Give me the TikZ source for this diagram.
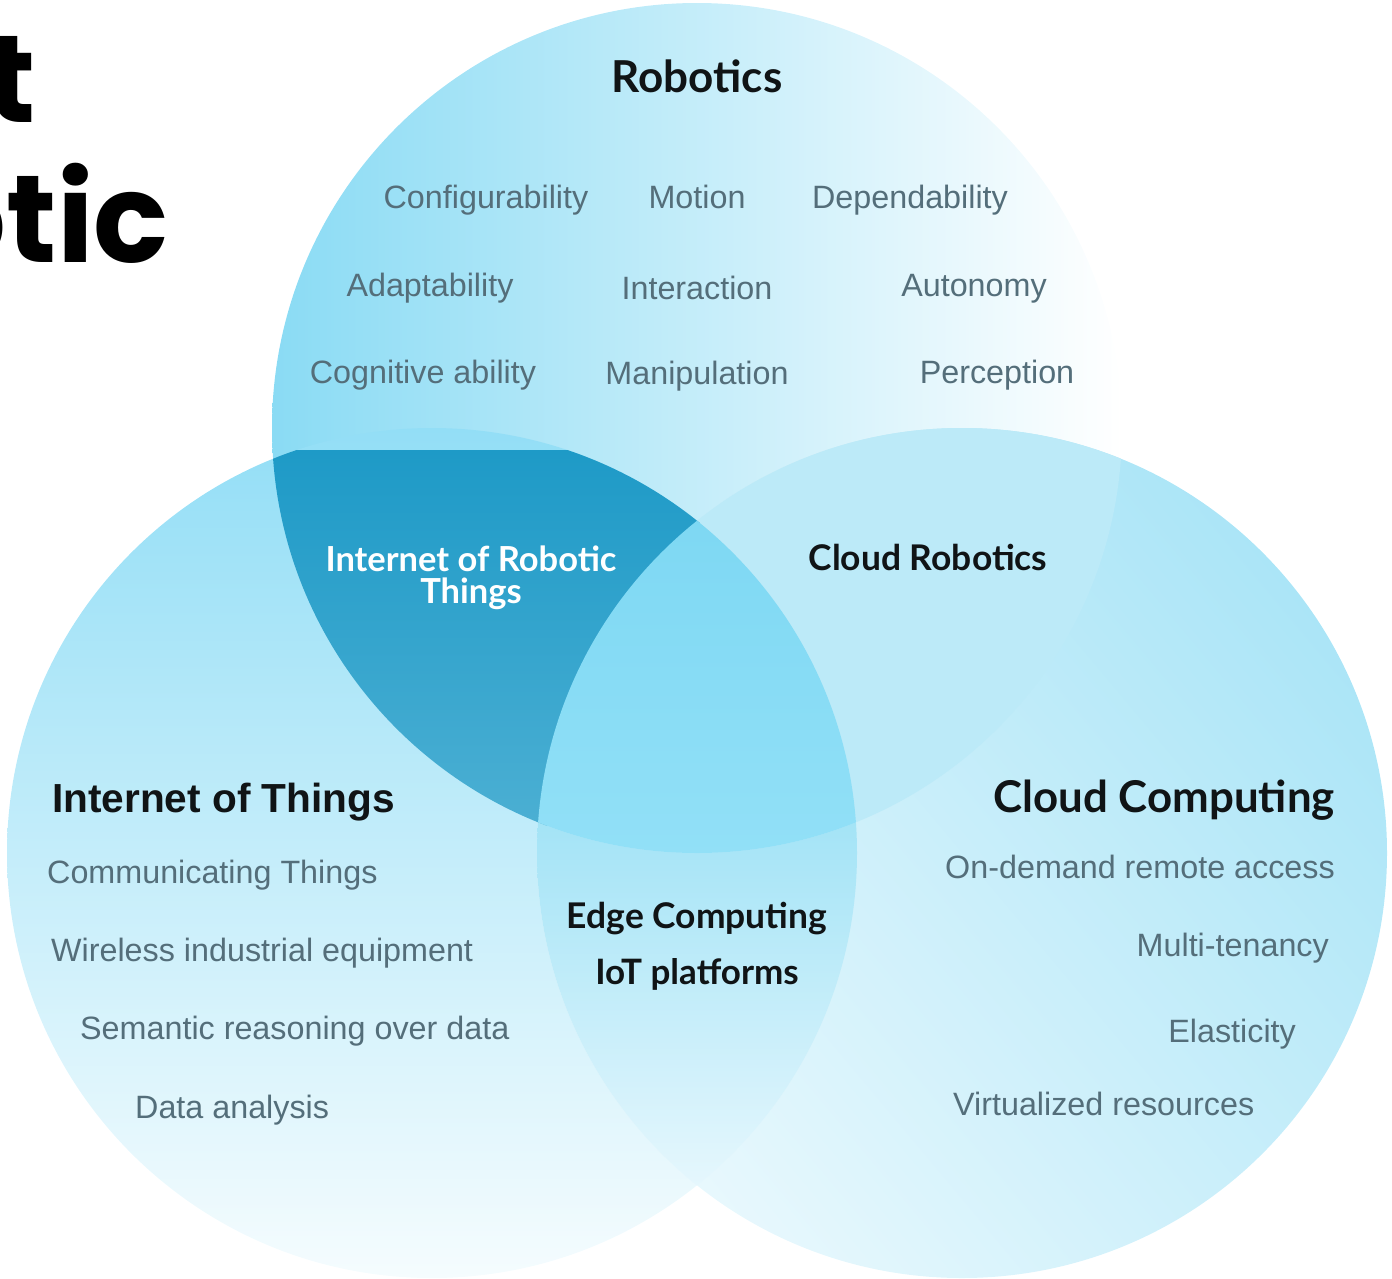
\documentclass[tikz,border=0pt]{standalone}
\usepackage{fontspec}
\setmainfont{Liberation Sans}
\newfontfamily\headfont{Lato}
\newfontfamily\titlefont{Poppins}
\definecolor{itemgray}{HTML}{546E7A}
\definecolor{headblack}{HTML}{101416}
\definecolor{robL}{HTML}{8ADBF4}
\definecolor{robM}{HTML}{C2EBF9}
\definecolor{iotT}{HTML}{93DEF6}
\definecolor{iotB}{HTML}{F5FCFE}
\definecolor{cldA}{HTML}{ABE5F7}
\definecolor{cldB}{HTML}{E8F8FD}
\definecolor{crob}{HTML}{BCEAF8}
\definecolor{iortT}{HTML}{1E9AC7}
\definecolor{iortB}{HTML}{4BAFD3}
\definecolor{tripT}{HTML}{7ED8F3}
\definecolor{tripB}{HTML}{92E0F7}
\definecolor{edgeT}{HTML}{A2E3F6}
\definecolor{edgeB}{HTML}{E6F7FD}
\tikzset{
  item/.style={text=itemgray, inner sep=0pt, anchor=mid, yshift=-9pt, font=\fontsize{32.3}{36}\selectfont},
  head/.style={text=headblack, inner sep=0pt, anchor=mid, yshift=-10pt, font=\headfont\bfseries\fontsize{35.4}{38}\selectfont},
  big/.style={text=black, inner sep=0pt, font=\titlefont\bfseries\fontsize{124}{140}\selectfont},
}
\begin{document}
\begin{tikzpicture}[x=1pt,y=-1pt]
\useasboundingbox (0,0) rectangle (1392,1278);
\clip (0,0) rectangle (1392,1278);
\coordinate (rob) at (697,428);
\coordinate (iot) at (432,853);
\coordinate (cld) at (962,853);

% the three sets
\shade[left color=robL, middle color=robM, right color=white] (rob) circle[radius=425pt];
\shade[top color=iotT, bottom color=iotB] (iot) circle[radius=425pt];
\shade[top color=cldA, bottom color=cldB, shading angle=-50] (cld) circle[radius=425pt];

% overlaps
\begin{scope}
  \clip (iot) circle[radius=425pt];
  \clip (cld) circle[radius=425pt];
  \shade[top color=edgeT, bottom color=edgeB] (535,812) rectangle (860,1190);
\end{scope}
\begin{scope}
  \clip (rob) circle[radius=425pt];
  \fill[crob] (cld) circle[radius=425pt];
  \clip (iot) circle[radius=425pt];
  \shade[top color=iortT, bottom color=iortB] (270,450) rectangle (700,825);
  \clip (cld) circle[radius=425pt];
  \shade[top color=tripT, bottom color=tripB] (535,520) rectangle (860,855);
\end{scope}

% title, cut by the page edge
\node[big, anchor=base east] (ttl1) at (36,122) {t};
\node[big, anchor=base east] (ttl2) at (169,262) {otic};

% Robotics
\node[head, yshift=-2pt, font=\headfont\bfseries\fontsize{44}{48}\selectfont] (robh) at (697,78) {Robotics};
\node[item] (cfg) at (486,197) {Configurability};
\node[item] (mot) at (697,197) {Motion};
\node[item] (dep) at (910,197) {Dependability};
\node[item] (adp) at (430,285) {Adaptability};
\node[item] (itr) at (697,288) {Interaction};
\node[item] (aut) at (974,285) {Autonomy};
\node[item] (cog) at (423,372) {Cognitive ability};
\node[item] (man) at (697,373) {Manipulation};
\node[item] (per) at (997,372) {Perception};

% overlaps
\node[head, text=white, align=center, anchor=center, yshift=8pt,
  font=\headfont\bfseries\fontsize{34.5}{32}\selectfont] (iorth) at (471,576) {Internet of Robotic\\Things};
\node[head] (crobh) at (928,558) {Cloud Robotics};
\node[head] (edgeh) at (697,916) {Edge Computing};
\node[head, font=\headfont\bfseries\fontsize{35}{38}\selectfont] (iotph) at (697,972) {IoT platforms};

% Internet of Things
\node[head, anchor=mid west, yshift=-2pt, font=\bfseries\fontsize{40.6}{44}\selectfont] (ioth) at (52,798) {Internet of Things};
\node[item, anchor=mid west] (com) at (47,872) {Communicating Things};
\node[item, anchor=mid west] (wir) at (51,950) {Wireless industrial equipment};
\node[item, anchor=mid west] (sem) at (80,1028) {Semantic reasoning over data};
\node[item, anchor=mid west] (dat) at (135,1107) {Data analysis};

% Cloud Computing
\node[head, anchor=mid east, yshift=-2pt, font=\headfont\bfseries\fontsize{43.8}{46}\selectfont] (cldh) at (1335,798) {Cloud Computing};
\node[item, anchor=mid east] (ond) at (1335,867) {On-demand remote access};
\node[item, anchor=mid east] (mul) at (1329,945) {Multi-tenancy};
\node[item, anchor=mid east] (ela) at (1296,1031) {Elasticity};
\node[item, anchor=mid west] (vir) at (953,1104) {Virtualized resources};
\end{tikzpicture}
\end{document}
